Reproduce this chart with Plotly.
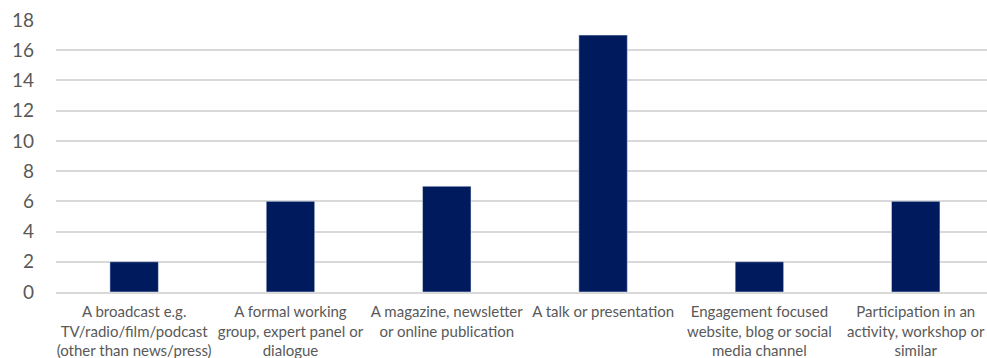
import plotly.graph_objects as go

categories = [
    "A broadcast e.g.<br>TV/radio/film/podcast<br>(other than news/press)",
    "A formal working<br>group, expert panel or<br>dialogue",
    "A magazine, newsletter<br>or online publication",
    "A talk or presentation",
    "Engagement focused<br>website, blog or social<br>media channel",
    "Participation in an<br>activity, workshop or<br>similar",
]
values = [2, 6, 7, 17, 2, 6]
y_ticks = list(range(0, 19, 2))

fig = go.Figure(go.Bar(x=categories, y=values, marker_color="#001A5E", width=0.31))
fig.update_layout(
    width=987, height=358,
    margin=dict(l=56, r=0, t=19.5, b=65.5),
    paper_bgcolor="white", plot_bgcolor="white",
    showlegend=False,
    font=dict(family="Lato, Carlito, sans-serif", color="#595959"),
)
fig.update_xaxes(tickfont=dict(size=15), showgrid=False, showline=True,
                 linecolor="#D9D9D9", linewidth=2, ticks="",
                 range=[-0.5, 5.456], automargin=False, ticklabelstandoff=5)
fig.update_yaxes(range=[0, 18], tickvals=y_ticks, tickfont=dict(size=19),
                 showgrid=True, gridcolor="#D9D9D9", gridwidth=2,
                 zeroline=False, ticks="", ticklabelstandoff=21, automargin=False)
fig.write_html("out.html")
